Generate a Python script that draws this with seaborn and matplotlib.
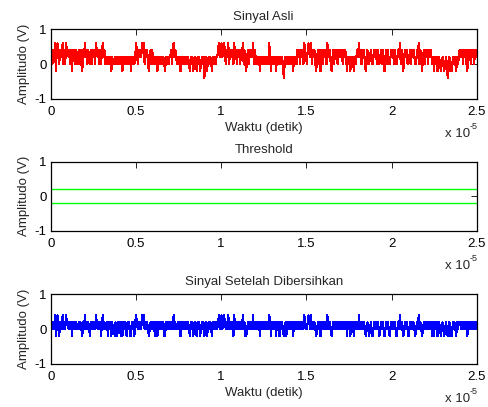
import numpy as np
import pandas as pd
import matplotlib
matplotlib.use("Agg")
import matplotlib.pyplot as plt
from matplotlib.ticker import FuncFormatter
import seaborn as sns

# Quantised amplitude levels (V): digit k in a code string means LEVELS[k]
LEVELS = [-0.4, -0.2, 0.0, 0.2, 0.4, 0.6]

# Original signal, one string per 0.1e-5 s of recording
sinyal_asli_kode = [
    "34243514532434524254", "43424143424324242143", "53424324243425434242",
    "45342232323132232323", "23231323232323132323", "54243435452434213424",
    "23232132323232132323", "34245343232313232323", "23213231232132312323",
    "02312323213232334534", "53454243524343253424", "34243524213424343524",
    "32323132323232325313", "23231323232320232323", "23231323243424342543",
    "24543524342134241342", "43425434213424342434", "34243431323132313234",
    "35342434213422343234", "34243234243134242234", "34243234352431343422",
    "34243432243524313424", "34243432313231232123", "21232023121323213234",
    "43424342143424342434",
]

# Denoised signal, same sampling
sinyal_bersih_kode = [
    "23232413421323423243", "32323132323223232132", "42323213232324323231",
    "34232231323132213213", "23131323213231132313", "43232324342323212323",
    "23132132323231132323", "23234232232313232323", "23213231232132312323",
    "12312323213232323423", "42343232423232142323", "23232423112323232423",
    "32323132323232324313", "23231323132321231323", "23231323232323232432",
    "23432423232123231232", "32324323212323232323", "23232331323132313233",
    "24232323212321232123", "23232123232123232123", "23232123242321232321",
    "23232321232423212323", "23232321313231232123", "21232123121323213233",
    "32323232132323232323",
]

threshold = 0.2
durasi = 2.5e-5
x_ticks = [0, 0.5, 1, 1.5, 2, 2.5]


def decode(segments):
    return np.array([LEVELS[int(c)] for seg in segments for c in seg])


asli = decode(sinyal_asli_kode)
bersih = decode(sinyal_bersih_kode)
t = np.linspace(0, durasi, len(asli))

df_asli = pd.DataFrame({"t": t, "v": asli})
df_bersih = pd.DataFrame({"t": t, "v": bersih})
df_thr = pd.DataFrame({"t": [0, durasi, 0, durasi],
                       "v": [threshold, threshold, -threshold, -threshold],
                       "batas": ["atas", "atas", "bawah", "bawah"]})

sns.set_style("white")
plt.rcParams["font.family"] = ["Liberation Sans", "DejaVu Sans"]
plt.rcParams["axes.unicode_minus"] = False
plt.rcParams["path.simplify"] = False

FS = 9.5

fig = plt.figure(figsize=(4.88, 4.07), dpi=100)
fig.patch.set_facecolor("white")

left, width = 0.1039, 0.873
ax1 = fig.add_axes([left, 0.7568, width, 0.1713])
ax2 = fig.add_axes([left, 0.4332, width, 0.1695])
ax3 = fig.add_axes([left, 0.1057, width, 0.1708])

sns.lineplot(data=df_asli, x="t", y="v", ax=ax1, color="#ff0000",
             linewidth=0.8, estimator=None, antialiased=False)
sns.lineplot(data=df_thr, x="t", y="v", units="batas", ax=ax2,
             color="#00ff00", linewidth=1.0, estimator=None)
sns.lineplot(data=df_bersih, x="t", y="v", ax=ax3, color="#0000ff",
             linewidth=0.8, estimator=None, antialiased=False)

titles = ["Sinyal Asli", "Threshold", "Sinyal Setelah Dibersihkan"]
xlabels = ["Waktu (detik)", "", "Waktu (detik)"]

for ax, title, xl in zip([ax1, ax2, ax3], titles, xlabels):
    ax.set_facecolor("white")
    ax.set_xlim(0, durasi)
    ax.set_ylim(-1, 1)
    ax.set_xticks([v * 1e-5 for v in x_ticks])
    ax.xaxis.set_major_formatter(FuncFormatter(lambda v, p: f"{v * 1e5:g}"))
    ax.set_yticks([-1, 0, 1])
    ax.tick_params(direction="in", top=True, right=True, length=4,
                   width=0.6, labelsize=FS, colors="black")
    ax.tick_params(axis="x", pad=5)
    ax.tick_params(axis="y", pad=3)
    for sp in ax.spines.values():
        sp.set_visible(True)
        sp.set_linewidth(0.9)
        sp.set_color("black")
    ax.set_title(title, fontsize=FS, pad=6.5)
    ax.set_ylabel("Amplitudo (V)", fontsize=FS, labelpad=3)
    ax.set_xlabel(xl, fontsize=FS, labelpad=3)
    # axis multiplier written as "x 10" with a raised exponent
    ax.annotate("x 10", xy=(1, 0), xycoords="axes fraction",
                xytext=(-7, -38), textcoords="offset pixels",
                ha="right", va="baseline", fontsize=FS)
    ax.annotate("-5", xy=(1, 0), xycoords="axes fraction",
                xytext=(-7, -30), textcoords="offset pixels",
                ha="left", va="baseline", fontsize=6.5)

fig.savefig("out.png", dpi=100)
